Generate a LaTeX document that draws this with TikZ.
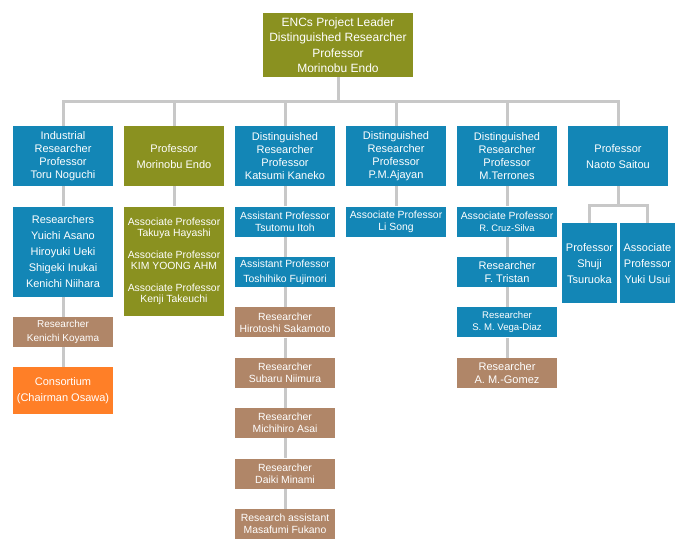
\documentclass[tikz,border=0pt]{standalone}
\usepackage{fontspec}
\setmainfont{Liberation Sans}
\usetikzlibrary{positioning}
\definecolor{teamBlue}{HTML}{1386B6}
\definecolor{teamOlive}{HTML}{8A9120}
\definecolor{teamBrown}{HTML}{B08668}
\definecolor{teamOrange}{HTML}{FF7F27}
\definecolor{linkGrey}{HTML}{C8C8C8}
\def\gap{20pt}

\begin{document}
\begin{tikzpicture}[
    x=1pt, y=1pt,
    box/.style={minimum width=100pt, minimum height=30pt, inner sep=0pt,
                align=center, text=white, font=\fontsize{10.4}{12}\selectfont},
    headbox/.style={box, minimum height=60pt, font=\fontsize{11}{13}\selectfont},
    bluebox/.style={fill=teamBlue},
    olivebox/.style={fill=teamOlive},
    brownbox/.style={fill=teamBrown},
    orangebox/.style={fill=teamOrange},
    link/.style={draw=linkGrey, line width=3pt},
    ]
\useasboundingbox (0,0) rectangle (680,-556);

% ====================================================================
% Project leader and first row
% ====================================================================
\node[box, olivebox, minimum width=150pt, minimum height=64pt,
      font=\fontsize{12}{15.5}\selectfont] (leader) at (338,-45)
  {ENCs Project Leader\\Distinguished Researcher\\Professor\\Morinobu Endo};

\node[headbox, bluebox, anchor=north] (noguchi) at (63,-126)
  {Industrial\\Researcher\\Professor\\Toru Noguchi};
\node[headbox, olivebox, anchor=north, font=\fontsize{11}{16}\selectfont]
  (endo) at (174,-126) {Professor\\Morinobu Endo};
\node[headbox, bluebox, anchor=north] (kaneko) at (285,-126)
  {Distinguished\\Researcher\\Professor\\Katsumi Kaneko};
\node[headbox, bluebox, anchor=north] (ajayan) at (396,-126)
  {Distinguished\\Researcher\\Professor\\P.M.Ajayan};
\node[headbox, bluebox, anchor=north] (terrones) at (507,-126)
  {Distinguished\\Researcher\\Professor\\M.Terrones};
\node[headbox, bluebox, anchor=north, font=\fontsize{11}{16}\selectfont]
  (saitou) at (618,-126) {Professor\\Naoto Saitou};

% bus line
\coordinate (bus) at (338,-101.5);
\foreach \n in {noguchi,endo,kaneko,ajayan,terrones,saitou}
  \draw[link] (leader.south) -- (leader.south |- bus) -| (\n.north);

% ====================================================================
% Column 1 -- Noguchi
% ====================================================================
\node[box, bluebox, minimum height=90pt, font=\fontsize{11}{16}\selectfont,
      below=\gap of noguchi] (researchers)
  {Researchers\\Yuichi Asano\\Hiroyuki Ueki\\Shigeki Inukai\\Kenichi Niihara};
\node[box, brownbox, font=\fontsize{10}{14.5}\selectfont,
      below=\gap of researchers] (koyama) {Researcher\\Kenichi Koyama};
\node[box, orangebox, minimum height=47pt, font=\fontsize{11}{16}\selectfont,
      below=\gap of koyama] (consortium) {Consortium\\(Chairman Osawa)};
\draw[link] (noguchi) -- (researchers) -- (koyama) -- (consortium);

% ====================================================================
% Column 2 -- Endo
% ====================================================================
\node[box, olivebox, minimum height=109pt, font=\fontsize{10.4}{11}\selectfont,
      below=\gap of endo] (endoassoc)
  {Associate Professor\\Takuya Hayashi\\[11pt]Associate Professor\\KIM YOONG AHM\\[11pt]Associate Professor\\Kenji Takeuchi};
\draw[link] (endo) -- (endoassoc);

% ====================================================================
% Column 3 -- Kaneko
% ====================================================================
\node[box, bluebox, below=\gap of kaneko] (itoh)
  {Assistant Professor\\Tsutomu Itoh};
\node[box, bluebox, font=\fontsize{10.4}{15}\selectfont,
      below=\gap of itoh] (fujimori) {Assistant Professor\\Toshihiko Fujimori};
\node[box, brownbox, below=\gap of fujimori] (sakamoto)
  {Researcher\\Hirotoshi Sakamoto};
\node[box, brownbox, below=\gap of sakamoto] (niimura)
  {Researcher\\Subaru Niimura};
\node[box, brownbox, below=\gap of niimura] (asai)
  {Researcher\\Michihiro Asai};
\node[box, brownbox, below=\gap of asai] (minami)
  {Researcher\\Daiki Minami};
\node[box, brownbox, below=\gap of minami] (fukano)
  {Research assistant\\Masafumi Fukano};
\draw[link] (kaneko) -- (itoh) -- (fujimori) -- (sakamoto) -- (niimura)
  -- (asai) -- (minami) -- (fukano);

% ====================================================================
% Column 4 -- Ajayan
% ====================================================================
\node[box, bluebox, below=\gap of ajayan] (song)
  {Associate Professor\\Li Song};
\draw[link] (ajayan) -- (song);

% ====================================================================
% Column 5 -- Terrones
% ====================================================================
\node[box, bluebox, below=\gap of terrones] (cruz)
  {Associate Professor\\{\fontsize{9.4}{12}\selectfont R. Cruz-Silva}};
\node[box, bluebox, font=\fontsize{11}{13}\selectfont,
      below=\gap of cruz] (tristan) {Researcher\\F. Tristan};
\node[box, bluebox, font=\fontsize{9.6}{12}\selectfont,
      below=\gap of tristan] (vega) {Researcher\\S. M. Vega-Diaz};
\node[box, brownbox, font=\fontsize{11}{13}\selectfont,
      below=\gap of vega] (gomez) {Researcher\\A. M.-Gomez};
\draw[link] (terrones) -- (cruz) -- (tristan) -- (vega) -- (gomez);

% ====================================================================
% Column 6 -- Saitou
% ====================================================================
\node[box, bluebox, minimum width=55pt, minimum height=80pt, anchor=north,
      font=\fontsize{11}{16}\selectfont] (tsuruoka) at (589.5,-223)
  {Professor\\Shuji\\Tsuruoka};
\node[box, bluebox, minimum width=55pt, minimum height=80pt, anchor=north,
      font=\fontsize{11}{16}\selectfont] (usui) at (647.5,-223)
  {Associate\\Professor\\Yuki Usui};
\draw[link] (saitou.south) -- ++(0,-19) coordinate (fork);
\draw[link] (tsuruoka.north) |- (fork) -| (usui.north);

\end{tikzpicture}
\end{document}
